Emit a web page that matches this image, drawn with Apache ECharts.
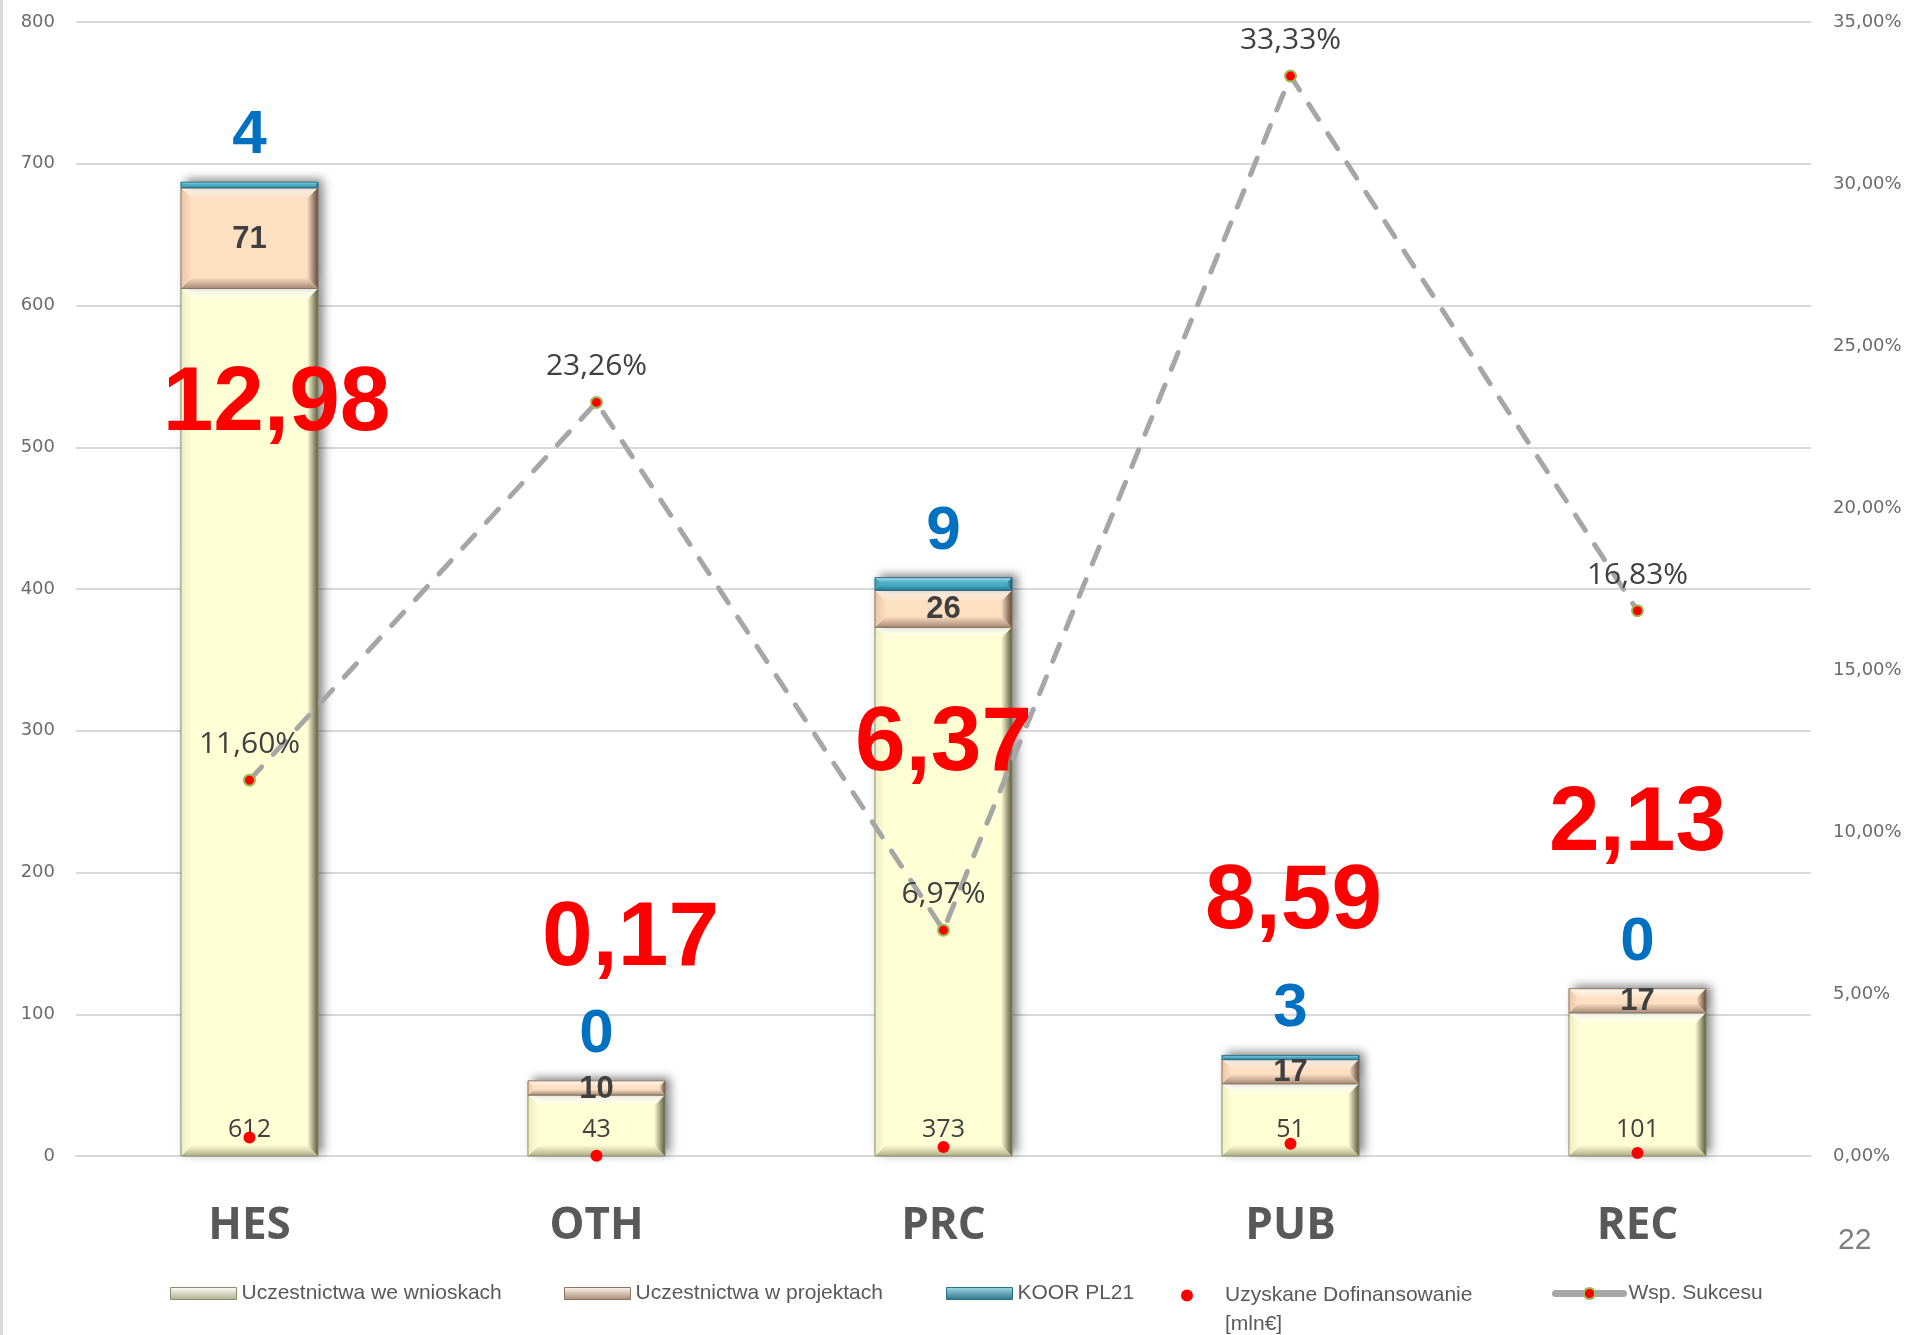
<!DOCTYPE html>
<html><head><meta charset="utf-8">
<script src="https://cdn.jsdelivr.net/npm/echarts@6/dist/echarts.min.js"></script>
<style>html,body{margin:0;padding:0;background:#fff}#chart{width:1909px;height:1335px}</style>
</head><body><div id="chart"></div>
<script>
// ---- data ----
const categories = ['HES', 'OTH', 'PRC', 'PUB', 'REC'];
const wnioski = [612, 43, 373, 51, 101];          // Uczestnictwa we wnioskach
const projekty = [71, 10, 26, 17, 17];           // Uczestnictwa w projektach
const koor = [4, 0, 9, 3, 0];                    // KOOR PL21
const dofinansowanie = [12.98, 0.17, 6.37, 8.59, 2.13]; // Uzyskane Dofinansowanie [mln€]
const sukces = [11.60, 23.26, 6.97, 33.33, 16.83];      // Wsp. Sukcesu (%)
const leftAxisTicks = { min: 0, max: 800, interval: 100 };
const rightAxisTicks = { min: 0, max: 35, interval: 5 };
const seriesNames = ['Uczestnictwa we wnioskach', 'Uczestnictwa w projektach', 'KOOR PL21',
  'Uzyskane Dofinansowanie [mln€]', 'Wsp. Sukcesu'];
// ---- layout (pixel offsets of the big red labels, as placed in the original) ----
const redLabelOffsets = [[27, -733], [34, -216], [0, -402], [3, -241], [0, -328]];

const fmtNum = v => Number(v).toFixed(2).replace('.', ',');
const fmtPct = v => Number(v).toFixed(2).replace('.', ',') + '%';

const palette = [
  { base: '#FFFFD6', top: '#FFFFFF', left: '#EDEDC2', right: '#5A5A40', bottom: '#ADAD8A', edge: '#8C8C6A' },
  { base: '#FDDFC2', top: '#FFF8F0', left: '#E8C5A5', right: '#5E4A3C', bottom: '#A68A74', edge: '#8C7360' },
  { base: '#4BACC6', top: '#A4DAE8', left: '#3E9DB6', right: '#1B4E5C', bottom: '#2A7285', edge: '#2A7285' }
];

const stacks = [wnioski, projekty, koor];
const segData = stacks.map((arr, s) => arr.map((v, i) => {
  let lo = 0;
  for (let k = 0; k < s; k++) lo += stacks[k][i];
  return [i, lo, lo + v, v];
}));

function grad(x0, y0, x1, y1, c0, c1) {
  return new echarts.graphic.LinearGradient(x0, y0, x1, y1, [{ offset: 0, color: c0 }, { offset: 1, color: c1 }]);
}

function makeRender(s) {
  const c = palette[s];
  return function (params, api) {
    const ci = api.value(0), lo = api.value(1), hi = api.value(2), v = api.value(3);
    const pLo = api.coord([ci, lo]);
    const pHi = api.coord([ci, hi]);
    const bw = api.size([1, 0])[0] * 0.395;
    const x = pLo[0] - bw / 2, y = pHi[1], h = pLo[1] - pHi[1];
    const children = [];
    if (v > 0) {
      const b = Math.max(1, Math.min(11, h / 2.5));
      children.push(
        { type: 'rect', shape: { x: x, y: y, width: bw, height: h },
          style: { fill: c.base, shadowBlur: 10, shadowColor: 'rgba(0,0,0,0.5)', shadowOffsetX: 5, shadowOffsetY: -3 } },
        { type: 'polygon', shape: { points: [[x, y], [x + bw, y], [x + bw - b, y + b], [x + b, y + b]] },
          style: { fill: grad(0, 0, 0, 1, c.top, c.base) } },
        { type: 'polygon', shape: { points: [[x, y + h], [x + bw, y + h], [x + bw - b, y + h - b], [x + b, y + h - b]] },
          style: { fill: grad(0, 0, 0, 1, c.base, c.bottom) } },
        { type: 'polygon', shape: { points: [[x, y], [x + b, y + b], [x + b, y + h - b], [x, y + h]] },
          style: { fill: grad(0, 0, 1, 0, c.left, c.base) } },
        { type: 'polygon', shape: { points: [[x + bw, y], [x + bw - b, y + b], [x + bw - b, y + h - b], [x + bw, y + h]] },
          style: { fill: grad(0, 0, 1, 0, c.base, c.right) } },
        { type: 'rect', shape: { x: x, y: y, width: bw, height: h },
          style: { fill: 'none', stroke: c.edge, lineWidth: 1 } }
      );
    }
    if (s === 0) {
      children.push({ type: 'text', x: pLo[0], y: pLo[1] - 26, z2: 10,
        style: { text: String(v), fill: '#404040', fontSize: 25, fontFamily: 'Open Sans', align: 'center', verticalAlign: 'middle' } });
    } else if (s === 1) {
      children.push({ type: 'text', x: pLo[0], y: (pLo[1] + pHi[1]) / 2 + 1, z2: 10,
        style: { text: String(v), fill: '#404040', fontSize: 31, fontWeight: 'bold', fontFamily: 'Liberation Sans', align: 'center', verticalAlign: 'middle' } });
    } else {
      children.push({ type: 'text', x: pLo[0], y: pHi[1] - 46, z2: 10,
        style: { text: String(v), fill: '#0070C0', fontSize: 62, fontWeight: 'bold', fontFamily: 'Liberation Sans', align: 'center', verticalAlign: 'middle' } });
    }
    return { type: 'group', children: children };
  };
}

const legendText = { color: '#595959', fontSize: 21, fontFamily: 'Liberation Sans' };
const legendIcon = s => ({ color: grad(0, 0, 0, 1, palette[s].top, palette[s].bottom), borderColor: palette[s].edge, borderWidth: 1 });

const chart = echarts.init(document.getElementById('chart'), null, { renderer: 'canvas' });
chart.setOption({
  backgroundColor: '#ffffff',
  animation: false,
  grid: { left: 76, right: 98, top: 22, bottom: 179 },
  legend: [
    { data: [{ name: seriesNames[0], icon: 'rect', itemStyle: legendIcon(0) }], left: 170, top: 1283, padding: 0, itemWidth: 66, itemHeight: 12, textStyle: legendText },
    { data: [{ name: seriesNames[1], icon: 'rect', itemStyle: legendIcon(1) }], left: 564, top: 1283, padding: 0, itemWidth: 66, itemHeight: 12, textStyle: legendText },
    { data: [{ name: seriesNames[2], icon: 'rect', itemStyle: legendIcon(2) }], left: 946, top: 1283, padding: 0, itemWidth: 66, itemHeight: 12, textStyle: legendText },
    { data: [{ name: seriesNames[3], icon: 'circle' }], left: 1181, top: 1252, padding: 0, itemWidth: 66, itemHeight: 12,
      formatter: n => '\u00A0\n' + n.replace(' [', '\n['),
      textStyle: Object.assign({}, legendText, { lineHeight: 29 }) },
    { data: [{ name: seriesNames[4], lineStyle: { type: 'solid', width: 7, cap: 'round', color: '#A6A6A6' } }],
      left: 1552, top: 1283, padding: 0, itemWidth: 68, itemHeight: 14, textStyle: legendText }
  ],
  xAxis: {
    type: 'category', data: categories, boundaryGap: true,
    axisLine: { lineStyle: { color: '#D9D9D9', width: 2 } },
    axisTick: { show: false },
    axisLabel: { margin: 48, color: '#595959', fontSize: 44, fontWeight: 'bold', fontFamily: 'Open Sans' }
  },
  yAxis: [
    {
      type: 'value', min: leftAxisTicks.min, max: leftAxisTicks.max, interval: leftAxisTicks.interval,
      axisLine: { show: false }, axisTick: { show: false },
      axisLabel: { margin: 21, color: '#6b6b6b', fontSize: 18, fontFamily: 'DejaVu Sans' },
      splitLine: { lineStyle: { color: '#D9D9D9', width: 2 } }
    },
    {
      type: 'value', min: rightAxisTicks.min, max: rightAxisTicks.max, interval: rightAxisTicks.interval,
      position: 'right',
      axisLine: { show: false }, axisTick: { show: false },
      axisLabel: { margin: 22, color: '#6b6b6b', fontSize: 18, fontFamily: 'DejaVu Sans', formatter: v => fmtPct(v) },
      splitLine: { show: false }
    }
  ],
  series: [
    ...[0, 1, 2].map(s => ({
      name: seriesNames[s], type: 'custom', renderItem: makeRender(s),
      encode: { x: 0, y: [1, 2] }, data: segData[s], z: 2,
      itemStyle: { color: palette[s].base }
    })),
    {
      name: seriesNames[3], type: 'scatter', yAxisIndex: 0, z: 6,
      data: dofinansowanie.map((v, i) => ({ value: v, label: { offset: redLabelOffsets[i] } })),
      symbol: 'circle', symbolSize: 12, itemStyle: { color: '#FF0000', opacity: 1 },
      label: { show: true, position: 'inside', formatter: p => fmtNum(p.value),
        color: '#FF0000', fontSize: 91, fontWeight: 'bold', fontFamily: 'Liberation Sans' }
    },
    {
      name: seriesNames[4], type: 'line', yAxisIndex: 1, z: 5, data: sukces,
      symbol: 'circle', symbolSize: 11,
      itemStyle: { color: '#FF0000', borderColor: '#9BBB59', borderWidth: 2 },
      lineStyle: { color: '#A6A6A6', width: 5, type: [18, 17], cap: 'round' },
      label: { show: true, position: 'top', distance: 14, formatter: p => fmtPct(p.value),
        color: '#404040', fontSize: 30, fontFamily: 'Open Sans' }
    }
  ],
  graphic: [
    { type: 'rect', left: 0, top: 0, shape: { width: 3, height: 1335 }, style: { fill: '#D9D9D9' } },
    { type: 'text', left: 1838, top: 1226, style: { text: '22', fill: '#7F7F7F', fontSize: 30, fontFamily: 'Liberation Sans' } }
  ]
});
</script></body></html>
